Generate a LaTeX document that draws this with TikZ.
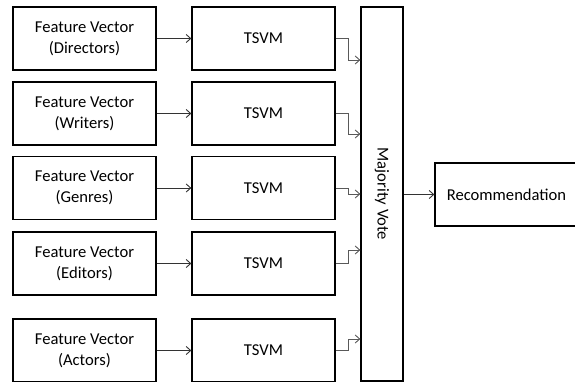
\documentclass[tikz,border=0pt]{standalone}
\usepackage{fontspec}
\setmainfont{Carlito}
\usetikzlibrary{positioning,arrows.meta}

\tikzset{
  box/.style={draw, line width=1.3pt, minimum width=143pt, minimum height=63pt,
              inner sep=0pt, align=center, font=\fontsize{16.6}{21}\selectfont},
  conn/.style={-{Straight Barb[length=4.5pt,width=8pt]}, line width=0.9pt, black!65},
}

\begin{document}
\begin{tikzpicture}[x=1pt, y=-1pt]

    \useasboundingbox (0,0) rectangle (575,382);

    % Feature vectors
    \node[box] (fv1) at (84.5,38.5) {Feature Vector\\(Directors)};
    \node[box] (fv2) at (84.5,113.5) {Feature Vector\\(Writers)};
    \node[box] (fv3) at (84.5,188) {Feature Vector\\(Genres)};
    \node[box] (fv4) at (84.5,263.5) {Feature Vector\\(Editors)};
    \node[box] (fv5) at (84.5,350.5) {Feature Vector\\(Actors)};

    % Classifiers
    \node[box] (ts1) at (263.5,38.5) {TSVM};
    \node[box] (ts2) at (263.5,113.5) {TSVM};
    \node[box] (ts3) at (263.5,188) {TSVM};
    \node[box] (ts4) at (263.5,263.5) {TSVM};
    \node[box] (ts5) at (263.5,350.5) {TSVM};

    % Majority vote and output
    \node[box, minimum width=42pt, minimum height=374pt] (mv) at (382,194) {};
    \node[rotate=-90, font=\fontsize{16.6}{21}\selectfont] at (mv.center) {Majority Vote};
    \node[box] (rec) at (506.5,194.5) {Recommendation};

    % Entry points on the vote box
    \coordinate (in1) at (mv.west |- 0,60);
    \coordinate (in2) at (mv.west |- 0,134);
    \coordinate (in3) at (mv.west |- 0,194);
    \coordinate (in4) at (mv.west |- 0,250);
    \coordinate (in5) at (mv.west |- 0,339);

    % Feature vector to classifier
    \draw[conn, black!80] (fv1) -- (ts1);
    \draw[conn, black!80] (fv2) -- (ts2);
    \draw[conn, black!80] (fv3) -- (ts3);
    \draw[conn, black!80] (fv4) -- (ts4);
    \draw[conn, black!80] (fv5) -- (ts5);

    % Classifier to vote
    \draw[conn] (ts1.east) -- ++(13,0) |- (in1);
    \draw[conn] (ts2.east) -- ++(13,0) |- (in2);
    \draw[conn] (ts3.east) -- ++(13,0) |- (in3);
    \draw[conn] (ts4.east) -- ++(13,0) |- (in4);
    \draw[conn] (ts5.east) -- ++(13,0) |- (in5);

    % Vote to recommendation
    \draw[conn, black!80] (mv.east |- rec) -- (rec);

\end{tikzpicture}
\end{document}
